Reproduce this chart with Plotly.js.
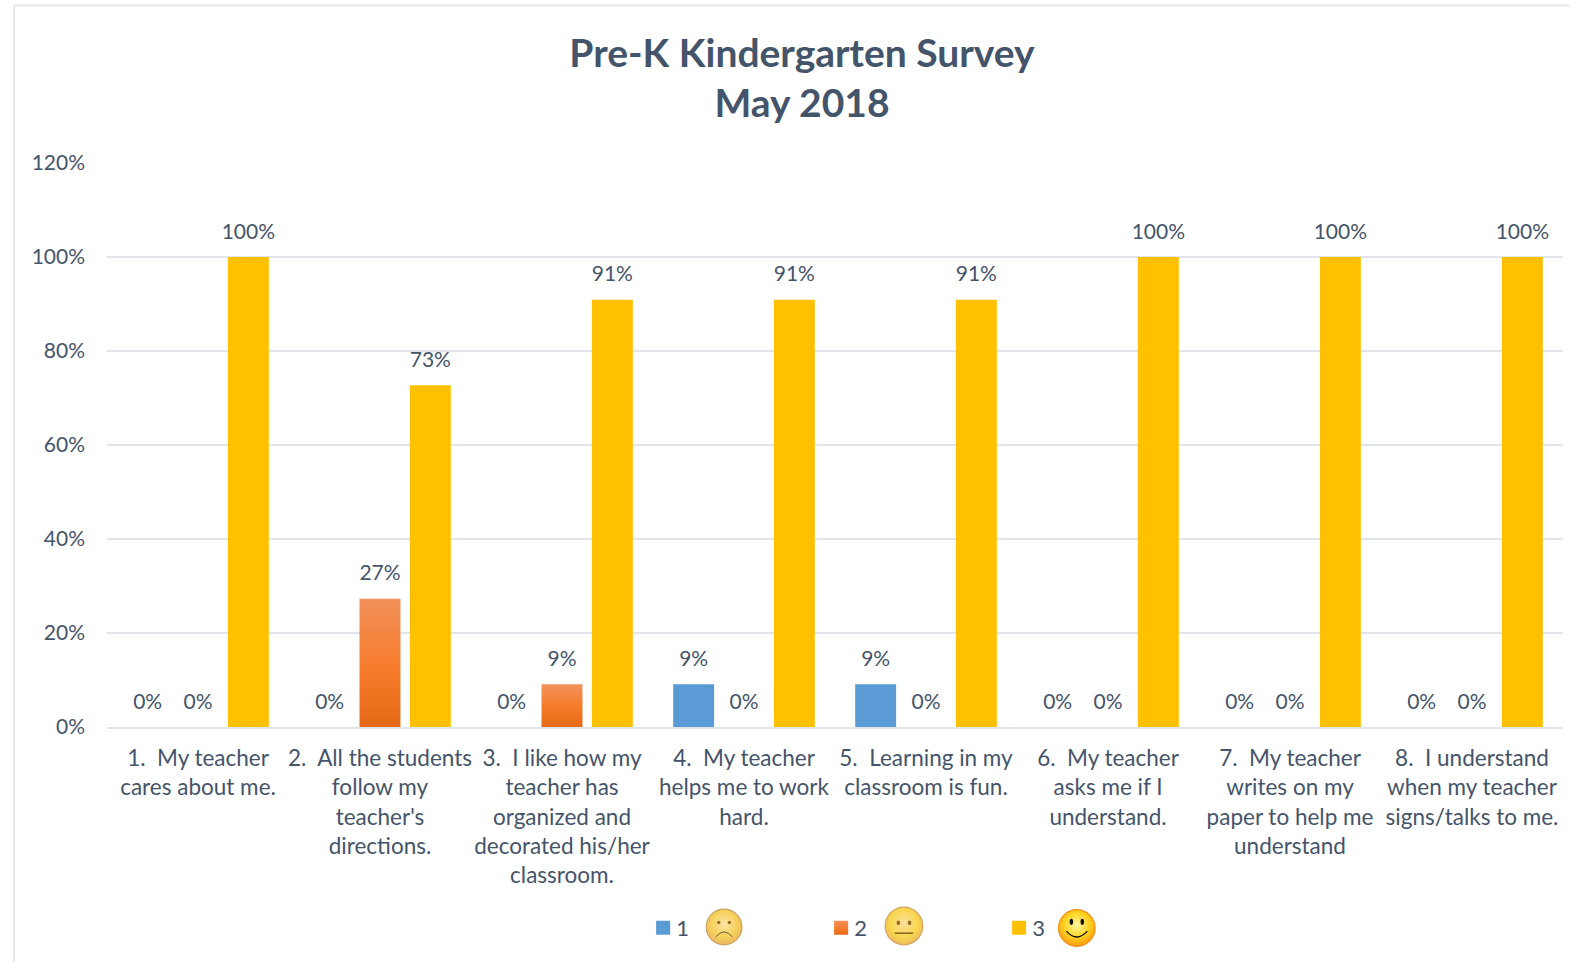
<!DOCTYPE html>
<html><head><meta charset="utf-8">
<script src="https://cdn.plot.ly/plotly-3.0.1.min.js"></script>
<style>html,body{margin:0;padding:0;background:#fff;overflow:hidden}#chart{width:1570px;height:962px}</style>
</head><body><div id="chart"></div>
<script>
const categories = [
  "1.  My teacher<br>cares about me.",
  "2.  All the students<br>follow my<br>teacher's<br>directions.",
  "3.  I like how my<br>teacher has<br>organized and<br>decorated his/her<br>classroom.",
  "4.  My teacher<br>helps me to work<br>hard.",
  "5.  Learning in my<br>classroom is fun.",
  "6.  My teacher<br>asks me if I<br>understand.",
  "7.  My teacher<br>writes on my<br>paper to help me<br>understand",
  "8.  I understand<br>when my teacher<br>signs/talks to me."
].map(s => s.replace(/  /g, "\u00a0\u00a0"));
const series1 = [0, 0, 0, 0.091, 0.091, 0, 0, 0];
const series2 = [0, 0.273, 0.091, 0, 0, 0, 0, 0];
const series3 = [1, 0.727, 0.909, 0.909, 0.909, 1, 1, 1];
const seriesNames = ["1", "2", "3"];
const colours = ["#5B9BD5", "#F4792B", "#FFC000"];
const textColour = "#44546A";
const fontName = "Lato, Carlito, sans-serif";
const W = 1570, H = 962;
const L = 106.5, R = 1563.5, T = 163, B = 727;
const px = x => (x - L) / (R - L), py = y => (B - y) / (B - T);

function face(kind) {
  const defs = {
    sad: ['#FBE3A6','#F6D25C','#E9B760','#C9A25E',
      '<circle cx="36" cy="38" r="4.5" fill="#9A6A25"/><circle cx="64" cy="38" r="4.5" fill="#9A6A25"/><path d="M28 76 Q50 50 72 76" fill="none" stroke="#6b5a35" stroke-width="2.6"/>'],
    mid: ['#FBDFA0','#F8D84F','#EDBC5C','#D9A560',
      '<ellipse cx="36" cy="42" rx="4.5" ry="6" fill="#9A6A25"/><ellipse cx="64" cy="42" rx="4.5" ry="6" fill="#9A6A25"/><rect x="27" y="66" width="46" height="4" fill="#8A6A2A"/>'],
    happy: ['#FFF7A0','#FFD21E','#F79A12','#F0901A',
      '<ellipse cx="36" cy="34" rx="4.5" ry="8" fill="#111"/><ellipse cx="64" cy="34" rx="4.5" ry="8" fill="#111"/><path d="M23 58 Q50 88 77 58" fill="none" stroke="#111" stroke-width="3.4"/>']
  }[kind];
  const svg = `<svg xmlns="http://www.w3.org/2000/svg" width="100" height="100" viewBox="0 0 100 100"><defs><radialGradient id="g" cx="50%" cy="42%" r="58%"><stop offset="0%" stop-color="${defs[0]}"/><stop offset="60%" stop-color="${defs[1]}"/><stop offset="100%" stop-color="${defs[2]}"/></radialGradient></defs><circle cx="50" cy="50" r="47" fill="url(#g)" stroke="${defs[3]}" stroke-width="3"/>${defs[4]}</svg>`;
  return "data:image/svg+xml;base64," + btoa(svg);
}
function faceImage(kind, cx, cy, d) {
  return {source: face(kind), xref: "paper", yref: "paper", x: px(cx - d/2), y: py(cy - d/2),
    sizex: d/(R-L), sizey: d/(B-T), sizing: "stretch", xanchor: "left", yanchor: "top", layer: "above"};
}
const seriesValues = [series1, series2, series3];
const traces = seriesValues.map((vals, i) => ({
  type: "bar", name: seriesNames[i], x: categories, y: vals,
  marker: {color: colours[i], line: {width: 0}},
  texttemplate: "%{y:.0%}", textposition: "outside", cliponaxis: false, constraintext: "none",
  textfont: {family: fontName, size: 21, color: textColour}, hoverinfo: "x+y"
}));
const layout = {
  width: W, height: H, autosize: false,
  margin: {l: L, r: W - R, t: T, b: H - B, pad: 0},
  paper_bgcolor: "#fff", plot_bgcolor: "#fff",
  font: {family: fontName, color: textColour},
  barmode: "group", bargap: 0.17, bargroupgap: 0.187,
  title: {text: "<b>Pre-K Kindergarten Survey<br>May 2018</b>", font: {family: fontName, size: 39, color: textColour},
    x: 802/W, xanchor: "center", xref: "container", y: 1 - 66.5/H, yanchor: "middle", yref: "container", automargin: false},
  xaxis: {type: "category", tickangle: 0, ticks: "", showgrid: false, showline: true, linecolor: "#E0E4EB", linewidth: 2,
    tickfont: {family: fontName, size: 22.5, color: textColour}, automargin: false, ticklabelstandoff: 10, zeroline: false},
  yaxis: {range: [0, 1.2], dtick: 0.2, tickformat: ".0%", ticks: "", gridcolor: "#E0E4EB", gridwidth: 2, zeroline: false, showline: false,
    tickfont: {family: fontName, size: 21, color: textColour}, automargin: false, ticklabelstandoff: 21},
  showlegend: true,
  legend: {orientation: "h", x: px(644), y: py(928), xanchor: "left", yanchor: "middle", entrywidth: 133, entrywidthmode: "pixels",
    font: {family: fontName, size: 22, color: textColour}, bgcolor: "rgba(0,0,0,0)", traceorder: "normal", itemclick: false, itemdoubleclick: false},
  shapes: [
    {type: "line", xref: "paper", yref: "paper", x0: px(13.5), x1: px(13.5), y0: py(962), y1: py(5.5), line: {color: "#E4E8EE", width: 2}},
    {type: "line", xref: "paper", yref: "paper", x0: px(13.5), x1: px(1570), y0: py(5.5), y1: py(5.5), line: {color: "#E4E8EE", width: 2}}
  ],
  images: [faceImage("sad", 724, 927, 38), faceImage("mid", 904, 926, 40), faceImage("happy", 1077, 928, 39)]
};
Plotly.newPlot("chart", traces, layout, {displayModeBar: false}).then(gd => {
  const svg = gd.querySelector(".main-svg");
  const ns = "http://www.w3.org/2000/svg";
  const defs = svg.querySelector("defs");
  const g = document.createElementNS(ns, "linearGradient");
  g.id = "orangeGrad"; g.setAttribute("x1", "0"); g.setAttribute("y1", "0"); g.setAttribute("x2", "0"); g.setAttribute("y2", "1");
  [["0", "#F2905A"], ["0.55", "#F67B2A"], ["1", "#E56A17"]].forEach(([o, c]) => {
    const s = document.createElementNS(ns, "stop"); s.setAttribute("offset", o); s.setAttribute("stop-color", c); g.appendChild(s);
  });
  defs.appendChild(g);
  gd.querySelectorAll(".barlayer .trace")[1].querySelectorAll(".point path").forEach(p => { p.style.fill = "url(#orangeGrad)"; });
  gd.querySelectorAll(".bartext").forEach(t => {
    t.setAttribute("transform", "translate(0,-11.5) " + (t.getAttribute("transform") || ""));
  });
  gd.querySelectorAll(".legend .traces").forEach((tr, i) => {
    const t = tr.querySelector(".legendtext");
    t.setAttribute("x", parseFloat(t.getAttribute("x")) - 8);
    const sw = tr.querySelector(".legendpoints path");
    if (sw) {
      sw.setAttribute("transform", "translate(19,0) scale(1.17)");
      if (i === 1) sw.style.fill = "url(#orangeGrad)";
    }
  });
});
</script></body></html>
